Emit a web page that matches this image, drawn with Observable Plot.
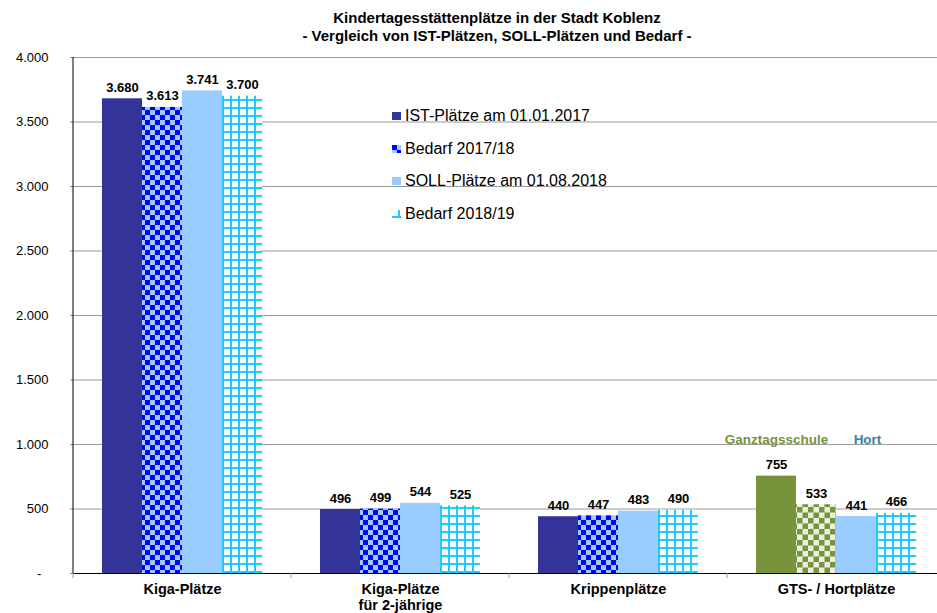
<!DOCTYPE html>
<html>
<head>
<meta charset="utf-8">
<script src="https://cdn.jsdelivr.net/npm/d3@7"></script>
<script src="https://cdn.jsdelivr.net/npm/@observablehq/plot@0.6"></script>
<style>
  html, body { margin: 0; padding: 0; background: #fff; overflow: hidden; }
  body { font-family: "Liberation Sans", Arial, sans-serif; color: #000; }
  #wrap { position: relative; width: 937px; height: 613px; overflow: hidden; }
  #title { position: absolute; left: 497px; top: 9px; transform: translateX(-50%);
           text-align: center; font-weight: bold; font-size: 15px; line-height: 18px; white-space: nowrap; }
  #chart { position: absolute; left: 0; top: 45px; width: 945px; }
  #chart svg { max-width: none !important; }
  #legend { position: absolute; left: 392px; top: 100px; font-size: 16px; }
  #legend .item { display: flex; align-items: center; height: 32.5px; white-space: nowrap; }
  #legend svg { margin-right: 4px; }
</style>
</head>
<body>
<div id="wrap">
  <div id="title">Kindertagesstättenplätze in der Stadt Koblenz<br>- Vergleich von IST-Plätzen, SOLL-Plätzen und Bedarf -</div>
  <div id="chart"></div>
  <div id="legend"></div>
</div>
<script>
// ---- data ----
const categories = ["Kiga-Plätze", "Kiga-Plätze\nfür 2-jährige", "Krippenplätze", "GTS- / Hortplätze"];
const seriesNames = ["IST-Plätze am 01.01.2017", "Bedarf 2017/18", "SOLL-Plätze am 01.08.2018", "Bedarf 2018/19"];
const ist2017    = [3680, 496, 440, 755];
const bedarf1718 = [3613, 499, 447, 533];
const soll2018   = [3741, 544, 483, 441];
const bedarf1819 = [3700, 525, 490, 466];
const yTicks = [0, 500, 1000, 1500, 2000, 2500, 3000, 3500, 4000];
const annoGTS = ["Ganztagsschule"];
const annoHort = ["Hort"];

// ---- styles ----
const seriesFills = ["#333399", "url(#chkBlue)", "#99CCFF", "url(#gridCyan)"];
const gtsFills    = ["#77933C", "url(#chkGreen)", "#99CCFF", "url(#gridCyan)"];
const seriesValues = [ist2017, bedarf1718, soll2018, bedarf1819];

const table = categories.flatMap((cat, i) =>
  seriesNames.map((s, j) => ({
    cat, series: s, value: seriesValues[j][i],
    fill: (i === categories.length - 1 ? gtsFills : seriesFills)[j]
  }))
);

const de = d3.formatLocale({decimal: ",", thousands: ".", grouping: [3], currency: ["", " €"]});
const fmt = de.format(",d");

const chart = Plot.plot({
  width: 945,
  height: 568,
  marginLeft: 73,
  marginRight: 0,
  marginTop: 12,
  marginBottom: 40,
  style: {fontFamily: "'Liberation Sans', Arial, sans-serif", fontSize: "13px", color: "#000", background: "#fff", maxWidth: "none"},
  fx: {domain: categories, paddingInner: 0, paddingOuter: 0, label: null},
  x: {domain: seriesNames, paddingInner: 0, paddingOuter: 0.725, axis: null},
  y: {domain: [0, 4000], label: null},
  color: {type: "identity"},
  marks: [
    Plot.gridY(yTicks, {stroke: "#9a9a9a", strokeOpacity: 1}),
    Plot.barY(table, {fx: "cat", x: "series", y: "value", fill: "fill"}),
    Plot.ruleY([0], {stroke: "#000"}),
    Plot.axisY(yTicks, {
      tickFormat: d => d === 0 ? "-\u00a0\u00a0" : fmt(d),
      tickSize: 3, tickPadding: 22, stroke: "#888", fill: "#000", fontSize: 13, label: null
    }),
    Plot.axisFx({anchor: "bottom", tickSize: 0, tickPadding: 9, fontSize: 14.5, fontWeight: "bold",
      lineHeight: 1.1, fill: "#000", label: null}),
    Plot.text(table, {
      fx: "cat", x: "series", y: "value", text: d => fmt(d.value),
      lineAnchor: "bottom", dy: -7, fontWeight: "bold", fontSize: 13, fill: "#000"
    }),
    Plot.text(annoGTS, {fx: () => categories[3], x: () => seriesNames[0], y: 1040, text: d => d,
      fill: "#77933C", fontWeight: "bold", fontSize: 13.5}),
    Plot.text(annoHort, {fx: () => categories[3], x: () => seriesNames[2], y: 1040, text: d => d, dx: 11,
      fill: "#31859C", fontWeight: "bold", fontSize: 13.5})
  ]
});

// patterns
const svg = d3.select(chart);
svg.insert("defs", ":first-child").html(`
  <pattern id="chkBlue" patternUnits="userSpaceOnUse" width="10" height="10">
    <rect width="10" height="10" fill="#99CCFF"/>
    <rect width="5" height="5" fill="#0000FF"/>
    <rect x="5" y="5" width="5" height="5" fill="#0000FF"/>
  </pattern>
  <pattern id="chkGreen" patternUnits="userSpaceOnUse" width="11" height="11">
    <rect width="11" height="11" fill="#EBF1DE"/>
    <rect width="5.5" height="5.5" fill="#77933C"/>
    <rect x="5.5" y="5.5" width="5.5" height="5.5" fill="#77933C"/>
  </pattern>
  <pattern id="gridCyan" patternUnits="userSpaceOnUse" width="8" height="8">
    <rect width="8" height="8" fill="#ffffff"/>
    <rect x="6" width="2" height="8" fill="#1ECBFF"/>
    <rect y="6" width="8" height="2" fill="#1ECBFF"/>
  </pattern>`);

// axis line and category boundary ticks from the library's scales
const fxS = chart.scale("fx"), yS = chart.scale("y");
const y0 = yS.apply(0), yTop = yS.apply(4000);
const xLeft = fxS.apply(categories[0]);
categories.forEach(c => {
  const x = fxS.apply(c);
  svg.append("line").attr("x1", x).attr("x2", x).attr("y1", y0).attr("y2", y0 + 5)
    .attr("stroke", "#999");
});
svg.append("line").attr("x1", xLeft).attr("x2", xLeft).attr("y1", yTop).attr("y2", y0)
  .attr("stroke", "#000");

document.getElementById("chart").appendChild(chart);

// legend
const legend = d3.select("#legend");
seriesNames.forEach((s, j) => {
  const item = legend.append("div").attr("class", "item");
  const m = item.append("svg").attr("width", 9).attr("height", 8);
  m.append("rect").attr("width", 9).attr("height", 8).attr("fill", seriesFills[j]);
  item.append("span").text(s);
});
</script>
</body>
</html>
